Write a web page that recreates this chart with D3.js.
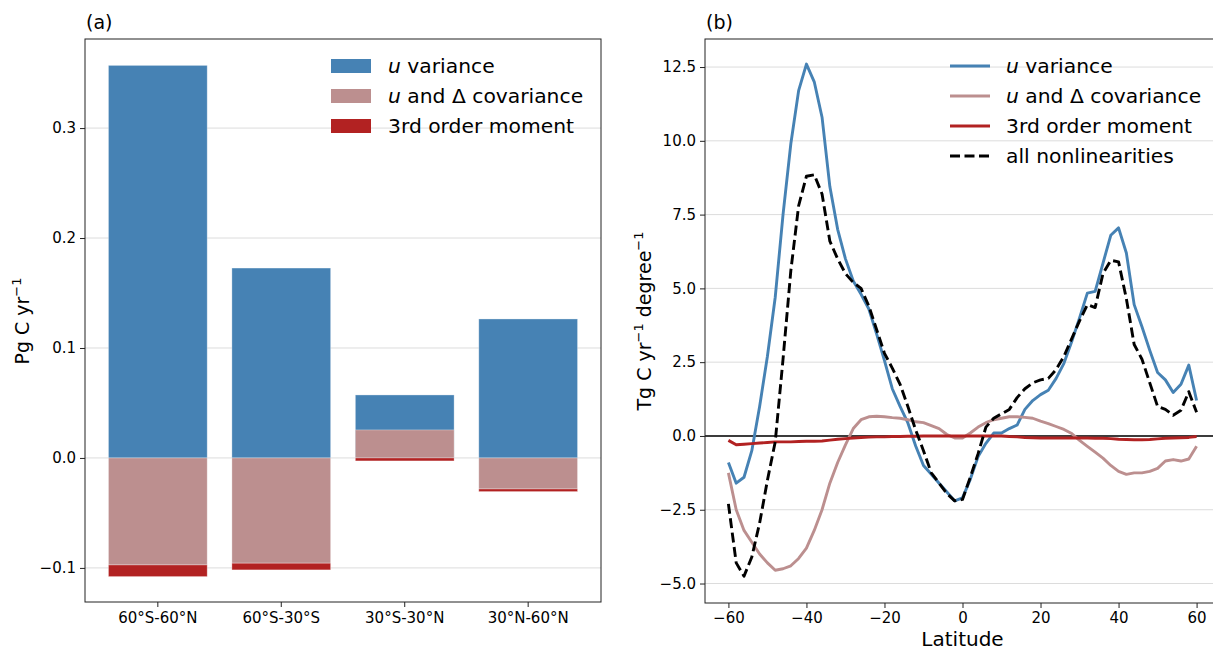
<!DOCTYPE html>
<html lang="en">
<head>
<meta charset="UTF-8" />
<title>Nonlinear contributions</title>
<script src="https://d3js.org/d3.v7.min.js"></script>
<style>
    body { margin: 0; background: #fff; }
    svg { display: block; font-family: "DejaVu Sans", sans-serif; }
    .grid line { stroke: #dcdcdc; stroke-width: 1; }
    .axis text { font-size: 15px; fill: #000; font-family: "DejaVu Sans", sans-serif; }
    .axis line { stroke: #222; stroke-width: 1; }
</style>
</head>
<body>
<svg id="chart" width="1213" height="650"></svg>
<script>
// ---- panel (a) : regional totals, Pg C / yr ----
const regions = ["60°S-60°N", "60°S-30°S", "30°S-30°N", "30°N-60°N"];
const barVariance = [0.357, 0.1727, 0.0573, 0.1264];
const barCovariance = [-0.0973, -0.0957, 0.0255, -0.0282];
const barThird = [-0.0106, -0.0061, -0.0027, -0.0024];
const barTicks = [-0.1, 0.0, 0.1, 0.2, 0.3];

// ---- panel (b) : zonal profiles, Tg C / yr / degree ----
const lat = [-60, -58, -56, -54, -52, -50, -48, -46, -44, -42, -40, -38, -36, -34, -32, -30,
    -28, -26, -24, -22, -20, -18, -16, -14, -12, -10, -8, -6, -4, -2, 0, 2, 4, 6, 8, 10,
    12, 14, 16, 18, 20, 22, 24, 26, 28, 30, 32, 34, 36, 38, 40, 42, 44, 46, 48, 50,
    52, 54, 56, 58, 60];
const uVariance = [-0.9, -1.6, -1.4, -0.5, 1.0, 2.7, 4.7, 7.5, 9.9, 11.7, 12.6, 12.0, 10.8, 8.45, 7.0, 6.0,
    5.25, 4.8, 4.3, 3.45, 2.55, 1.6, 1.0, 0.44, -0.34, -1.0, -1.3, -1.6, -1.9, -2.2, -2.1, -1.47, -0.7, -0.25, 0.1, 0.1,
    0.25, 0.37, 0.9, 1.2, 1.4, 1.55, 1.95, 2.46, 3.2, 4.0, 4.84, 4.9, 5.85, 6.8, 7.05, 6.2, 4.45, 3.7, 2.9, 2.15,
    1.9, 1.47, 1.75, 2.4, 1.2];
const uDeltaCov = [-1.25, -2.5, -3.2, -3.6, -4.0, -4.3, -4.55, -4.5, -4.4, -4.15, -3.8, -3.2, -2.5, -1.6, -0.9, -0.3,
    0.25, 0.55, 0.65, 0.67, 0.65, 0.62, 0.6, 0.55, 0.48, 0.45, 0.35, 0.25, 0.05, -0.07, -0.07, 0.1, 0.3, 0.45, 0.55, 0.6,
    0.65, 0.65, 0.63, 0.6, 0.5, 0.42, 0.32, 0.22, 0.08, -0.15, -0.35, -0.55, -0.75, -1.0, -1.2, -1.3, -1.25, -1.25, -1.2, -1.1,
    -0.85, -0.8, -0.85, -0.78, -0.35];
const thirdMoment = [-0.15, -0.3, -0.28, -0.26, -0.24, -0.22, -0.2, -0.2, -0.2, -0.19, -0.18, -0.18, -0.17, -0.14, -0.11, -0.09,
    -0.07, -0.05, -0.04, -0.03, -0.03, -0.02, -0.02, -0.01, -0.01, 0, 0, 0, 0, 0, 0, 0, 0, 0, 0, 0,
    -0.02, -0.03, -0.05, -0.06, -0.07, -0.07, -0.07, -0.07, -0.07, -0.07, -0.07, -0.08, -0.08, -0.09, -0.11, -0.12, -0.13, -0.13, -0.12, -0.1,
    -0.08, -0.07, -0.06, -0.05, -0.02];
const allNonlin = [-2.3, -4.3, -4.75, -4.1, -2.95, -1.5, -0.2, 2.6, 5.6, 7.8, 8.8, 8.85, 8.2, 6.6, 6.0, 5.5,
    5.2, 5.0, 4.4, 3.6, 2.8, 2.3, 1.75, 1.0, 0.2, -0.5, -1.25, -1.6, -1.95, -2.2, -2.15, -1.4, -0.6, 0.3, 0.6, 0.75,
    0.9, 1.3, 1.6, 1.8, 1.9, 1.95, 2.25, 2.7, 3.3, 3.9, 4.45, 4.35, 5.5, 5.95, 5.9, 4.65, 3.1, 2.6, 1.8, 1.0,
    0.9, 0.7, 0.87, 1.5, 0.8];
const latTicks = [-60, -40, -20, 0, 20, 40, 60];
const profileTicks = [-5, -2.5, 0, 2.5, 5, 7.5, 10, 12.5];

const blue = "#4682b4", rosy = "#bc8f8f", red = "#b22222";

const svg = d3.select("#chart");

// italic "u" prefix for legend labels
function label(sel, italicU, rest) {
    if (italicU) sel.append("tspan").attr("font-style", "italic").text("u");
    sel.append("tspan").text(rest);
}

// ================= panel (a) =================
const a = { left: 85, right: 601, top: 39, bottom: 602 };

const xA = d3.scaleBand()
    .domain(regions)
    .range([a.left, a.right])
    .paddingInner(0.2)
    .paddingOuter(0.19);

const yA = d3.scaleLinear()
    .domain([-0.131, 0.381])
    .range([a.bottom, a.top]);

svg.append("g").attr("class", "grid")
    .selectAll("line").data(barTicks).join("line")
    .attr("x1", a.left).attr("x2", a.right)
    .attr("y1", d => yA(d)).attr("y2", d => yA(d));

const gA = svg.append("g");
function bars(vals, bottoms, color) {
    gA.selectAll(null).data(vals).join("rect")
        .attr("x", (d, i) => xA(regions[i]))
        .attr("width", xA.bandwidth())
        .attr("y", (d, i) => yA(Math.max(bottoms[i], bottoms[i] + d)))
        .attr("height", (d, i) => Math.abs(yA(bottoms[i]) - yA(bottoms[i] + d)))
        .attr("fill", color)
        .attr("stroke", "#fff").attr("stroke-opacity", 0.4).attr("stroke-width", 0.8);
}
bars(barVariance, barVariance.map(() => 0), blue);
bars(barCovariance, barCovariance.map(() => 0), rosy);
bars(barThird, barCovariance.map(c => Math.min(c, 0)), red);

svg.append("g").attr("class", "axis")
    .attr("transform", `translate(${a.left},0)`)
    .call(d3.axisLeft(yA).tickValues(barTicks).tickFormat(d3.format(".1f")).tickSize(5).tickPadding(4))
    .call(g => g.select(".domain").remove());

svg.append("g").attr("class", "axis")
    .attr("transform", `translate(0,${a.bottom})`)
    .call(d3.axisBottom(xA).tickSize(5).tickPadding(5))
    .call(g => g.select(".domain").remove());

svg.append("rect")
    .attr("x", a.left).attr("y", a.top)
    .attr("width", a.right - a.left).attr("height", a.bottom - a.top)
    .attr("fill", "none").attr("stroke", "#222").attr("stroke-width", 1);

svg.append("text").attr("x", 86).attr("y", 29).attr("font-size", 19).text("(a)");

const yLabA = svg.append("text")
    .attr("transform", "translate(29,321) rotate(-90)")
    .attr("text-anchor", "middle").attr("font-size", 19);
yLabA.append("tspan").text("Pg C yr");
yLabA.append("tspan").attr("font-size", 13).attr("dy", -8).text("−1");

// legend (a)
const legA = [
    { it: true, text: " variance", color: blue },
    { it: true, text: " and Δ covariance", color: rosy },
    { it: false, text: "3rd order moment", color: red }
];
legA.forEach((d, i) => {
    const yy = 66 + i * 30;
    svg.append("rect").attr("x", 331).attr("y", yy - 7).attr("width", 40).attr("height", 14).attr("fill", d.color);
    const t = svg.append("text").attr("x", 388).attr("y", yy + 7).attr("font-size", 20.3);
    label(t, d.it, d.text);
});

// ================= panel (b) =================
const b = { left: 705, right: 1220, top: 39, bottom: 603 };

const xB = d3.scaleLinear().domain([-66, 66]).range([b.left, b.right]);
const yB = d3.scaleLinear().domain([-5.66, 13.45]).range([b.bottom, b.top]);

svg.append("g").attr("class", "grid")
    .selectAll("line").data(profileTicks).join("line")
    .attr("x1", b.left).attr("x2", b.right)
    .attr("y1", d => yB(d)).attr("y2", d => yB(d));

svg.append("line")
    .attr("x1", b.left).attr("x2", b.right)
    .attr("y1", yB(0)).attr("y2", yB(0))
    .attr("stroke", "#000").attr("stroke-width", 1.6);

const series = [
    { vals: uVariance, color: blue, dash: null, it: true, text: " variance" },
    { vals: uDeltaCov, color: rosy, dash: null, it: true, text: " and Δ covariance" },
    { vals: thirdMoment, color: red, dash: null, it: false, text: "3rd order moment" },
    { vals: allNonlin, color: "#000", dash: "10,4.5", it: false, text: "all nonlinearities" }
];

const line = d3.line().x((d, i) => xB(lat[i])).y(d => yB(d));

series.forEach(s => {
    svg.append("path")
        .datum(s.vals)
        .attr("d", line)
        .attr("fill", "none")
        .attr("stroke", s.color)
        .attr("stroke-width", 2.9)
        .attr("stroke-linejoin", "round")
        .attr("stroke-dasharray", s.dash);
});

svg.append("g").attr("class", "axis")
    .attr("transform", `translate(${b.left},0)`)
    .call(d3.axisLeft(yB).tickValues(profileTicks).tickFormat(d3.format(".1f")).tickSize(5).tickPadding(4))
    .call(g => g.select(".domain").remove());

svg.append("g").attr("class", "axis")
    .attr("transform", `translate(0,${b.bottom})`)
    .call(d3.axisBottom(xB).tickValues(latTicks).tickFormat(d3.format("d")).tickSize(5).tickPadding(4))
    .call(g => g.select(".domain").remove());

svg.append("rect")
    .attr("x", b.left).attr("y", b.top)
    .attr("width", b.right - b.left).attr("height", b.bottom - b.top)
    .attr("fill", "none").attr("stroke", "#222").attr("stroke-width", 1);

svg.append("text").attr("x", 706).attr("y", 29).attr("font-size", 19).text("(b)");

svg.append("text")
    .attr("x", xB(0)).attr("y", 646)
    .attr("text-anchor", "middle").attr("font-size", 20)
    .text("Latitude");

const yLabB = svg.append("text")
    .attr("transform", "translate(651,321) rotate(-90)")
    .attr("text-anchor", "middle").attr("font-size", 19);
yLabB.append("tspan").text("Tg C yr");
yLabB.append("tspan").attr("font-size", 13).attr("dy", -8).text("−1");
yLabB.append("tspan").attr("dy", 8).text(" degree");
yLabB.append("tspan").attr("font-size", 13).attr("dy", -8).text("−1");

// legend (b)
series.forEach((s, i) => {
    const yy = 66 + i * 30;
    svg.append("line")
        .attr("x1", 950).attr("x2", 990).attr("y1", yy).attr("y2", yy)
        .attr("stroke", s.color).attr("stroke-width", 2.9)
        .attr("stroke-dasharray", s.dash);
    const t = svg.append("text").attr("x", 1006).attr("y", yy + 7).attr("font-size", 20.3);
    label(t, s.it, s.text);
});
</script>
</body>
</html>
